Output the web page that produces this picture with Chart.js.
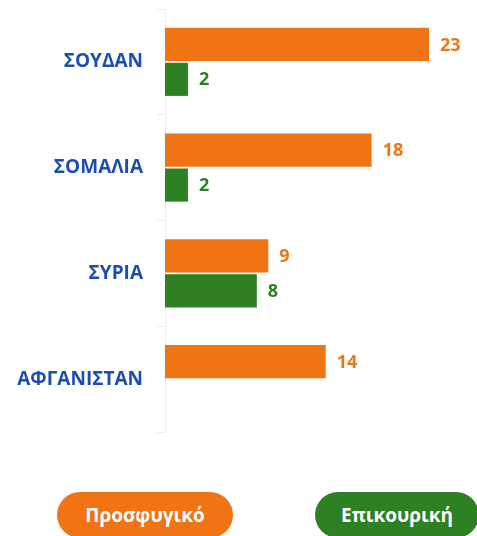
<!DOCTYPE html>
<html lang="el">
<head>
<meta charset="utf-8">
<title>Προσφυγικό / Επικουρική</title>
<script src="https://cdn.jsdelivr.net/npm/chart.js@4"></script>
<style>
  html, body { margin: 0; padding: 0; background: #fff; overflow: hidden; }
  body { width: 477px; height: 536px; position: relative; font-family: 'Open Sans', sans-serif; }
  #chartBox { position: absolute; left: 0; top: 0; width: 477px; height: 460px; }
  #legend { position: absolute; left: 0; top: 0; width: 477px; height: 536px; pointer-events: none; }
  .pill {
    position: absolute; top: 492px; height: 46px; border-radius: 23px;
    color: #fff; font-weight: 700; font-size: 19px; line-height: 46px; text-align: center;
  }
</style>
</head>
<body>
<div id="chartBox"><canvas id="countryChart"></canvas></div>
<div id="legend"></div>
<script>
  // Categories and series
  var countries = ['ΣΟΥΔΑΝ', 'ΣΟΜΑΛΙΑ', 'ΣΥΡΙΑ', 'ΑΦΓΑΝΙΣΤΑΝ'];
  var refugeeValues = [23, 18, 9, 14];
  var subsidiaryValues = [2, 2, 8, null];
  var seriesNames = ['Προσφυγικό', 'Επικουρική'];

  var colorOrange = '#f07314';
  var colorGreen = '#2e8123';
  var colorBlue = '#1d4eae';
  var colorLine = '#eeeeee';

  // Value written just past the end of each bar
  var barValueLabels = {
    id: 'barValueLabels',
    afterDatasetsDraw: function (chart) {
      var ctx = chart.ctx;
      ctx.save();
      ctx.font = "700 18px 'Open Sans', sans-serif";
      ctx.textAlign = 'left';
      ctx.textBaseline = 'middle';
      chart.data.datasets.forEach(function (ds, i) {
        var meta = chart.getDatasetMeta(i);
        meta.data.forEach(function (bar, j) {
          var v = ds.data[j];
          if (v === null || v === undefined) return;
          ctx.fillStyle = ds.backgroundColor;
          ctx.fillText(String(v), bar.x + 11, bar.y + 1);
        });
      });
      ctx.restore();
    }
  };

  var chart = new Chart(document.getElementById('countryChart'), {
    type: 'bar',
    data: {
      labels: countries,
      datasets: [{
        label: seriesNames[0],
        data: refugeeValues,
        backgroundColor: colorOrange,
        categoryPercentage: 0.66,
        barPercentage: 0.95
      }, {
        label: seriesNames[1],
        data: subsidiaryValues,
        backgroundColor: colorGreen,
        categoryPercentage: 0.66,
        barPercentage: 0.95
      }]
    },
    options: {
      indexAxis: 'y',
      responsive: true,
      maintainAspectRatio: false,
      animation: false,
      layout: { padding: { top: 9, bottom: 28, right: 25, left: 0 } },
      plugins: {
        legend: { display: false },
        tooltip: { enabled: false }
      },
      scales: {
        x: {
          display: false,
          min: 0,
          max: 25
        },
        y: {
          // fixed axis width; no extra room above/below for the labels
          afterFit: function (scale) {
            scale.width = 165;
            scale.paddingTop = 0;
            scale.paddingBottom = 0;
          },
          grid: {
            offset: true,
            drawOnChartArea: false,
            tickLength: 8,
            color: colorLine
          },
          border: { color: colorLine },
          ticks: {
            padding: 14,
            color: colorBlue,
            font: { family: "'Open Sans', sans-serif", weight: '700', size: 19 }
          }
        }
      }
    },
    plugins: [barValueLabels]
  });

  // Pill legend under the chart
  var pillBoxes = [{ left: 57, width: 176 }, { left: 315, width: 164 }];
  var legendEl = document.getElementById('legend');
  chart.data.datasets.forEach(function (ds, i) {
    var pill = document.createElement('div');
    pill.className = 'pill';
    pill.style.left = pillBoxes[i].left + 'px';
    pill.style.width = pillBoxes[i].width + 'px';
    pill.style.background = ds.backgroundColor;
    pill.textContent = ds.label;
    legendEl.appendChild(pill);
  });
</script>
</body>
</html>
